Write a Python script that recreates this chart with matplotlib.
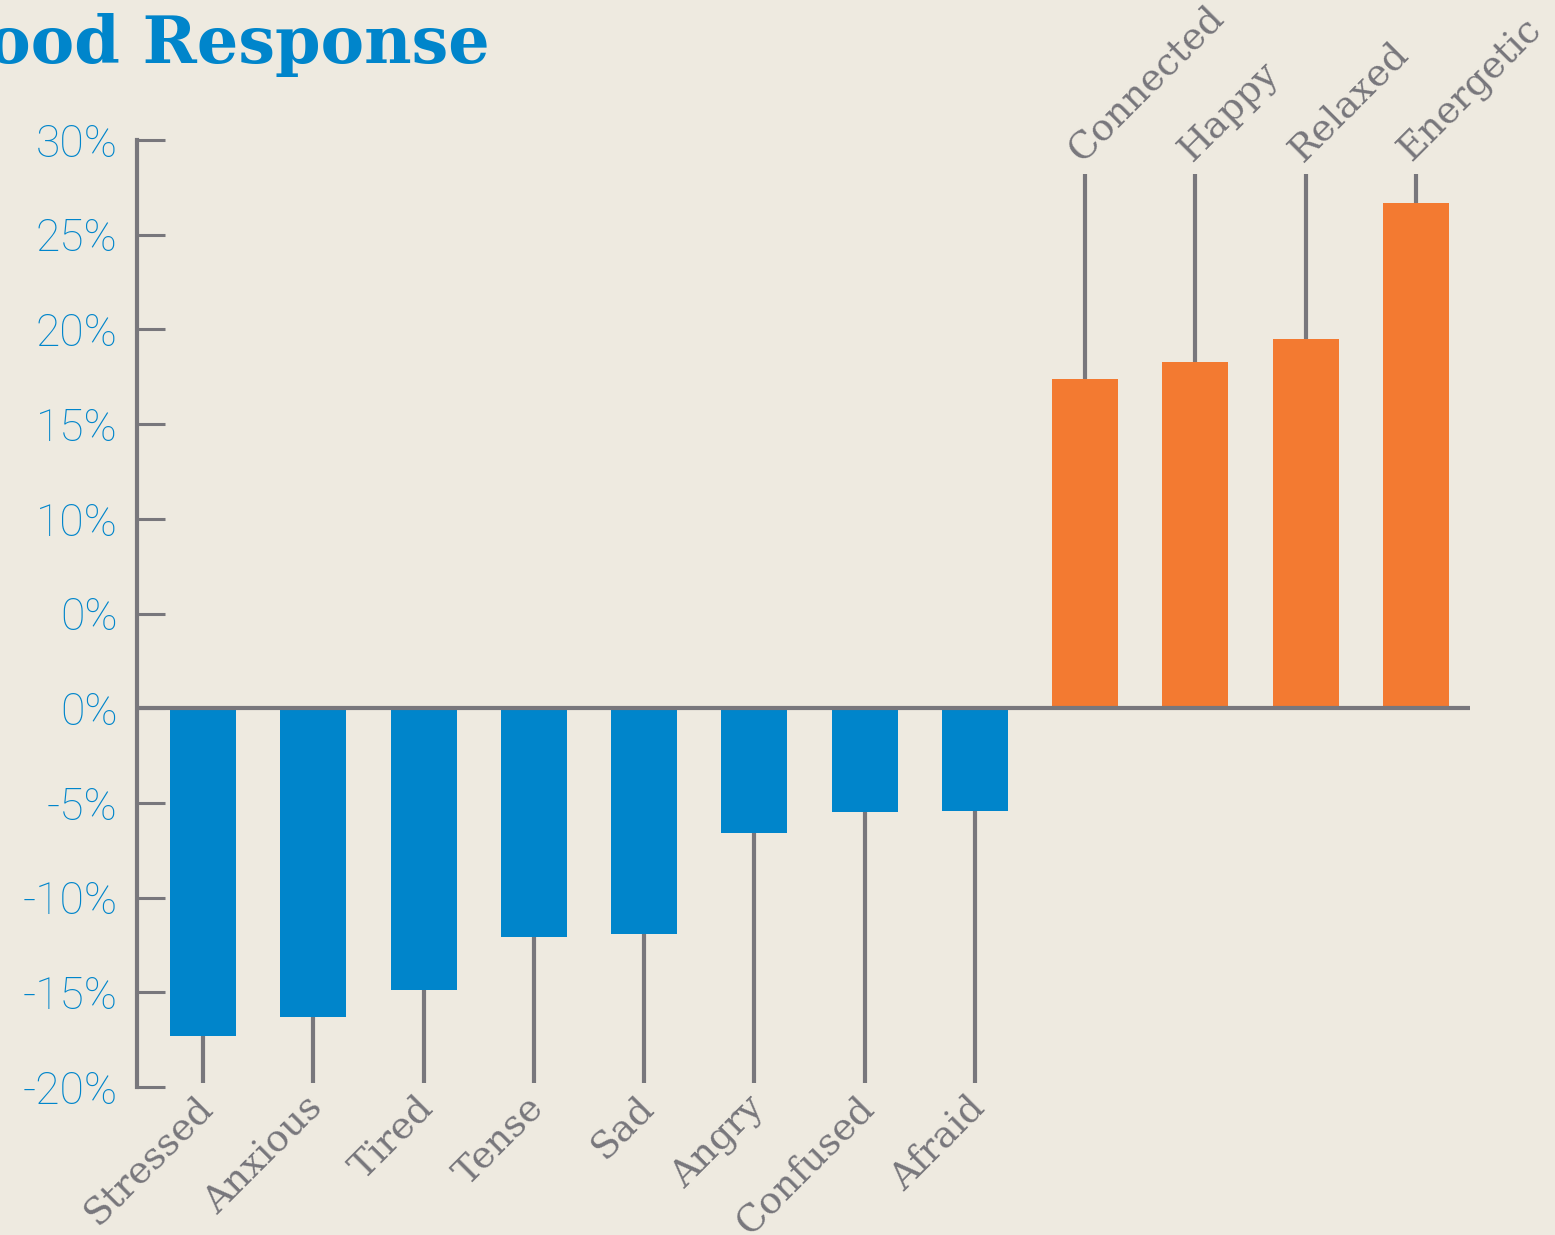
import numpy as np
import matplotlib.pyplot as plt

# ------ datos ------
moods = ['Stressed', 'Anxious', 'Tired', 'Tense', 'Sad', 'Angry', 'Confused', 'Afraid',
         'Connected', 'Happy', 'Relaxed', 'Energetic']
values = [-17.3, -16.3, -14.9, -12.1, -11.9, -6.6, -5.5, -5.4,
          17.4, 18.3, 19.5, 26.7]
ytick_vals = [30, 25, 20, 15, 10, 5, 0, -5, -10, -15, -20]
ytick_labels = ['30%', '25%', '20%', '15%', '10%', '0%', '0%', '-5%', '-10%', '-15%', '-20%']
title = 'Mood Response'

bg = '#EEEAE0'
blue = '#0085CB'
orange = '#F37A31'
gray = '#78777C'

fig = plt.figure(figsize=(15.55, 12.35), dpi=100, facecolor=bg)
ax = fig.add_axes([0.0881, 0.1198, 0.8572, 0.7668], facecolor=bg)

x = np.arange(len(moods))
colors = [blue if v < 0 else orange for v in values]
ax.bar(x, values, width=0.6, color=colors, zorder=2)
ax.axhline(0, color=gray, lw=3, zorder=3)

# lineas guia hacia las etiquetas
top_end, bottom_end = 28.2, -19.8
for xi, v, name in zip(x, values, moods):
    if v < 0:
        ax.plot([xi, xi], [v, bottom_end], color=gray, lw=3, solid_capstyle='butt', zorder=1)
        ax.text(xi - 0.08, bottom_end - 0.3, name, rotation=45, ha='right', va='top',
                rotation_mode='anchor', fontsize=27, color=gray, family='DejaVu Serif')
    else:
        ax.plot([xi, xi], [v, top_end], color=gray, lw=3, solid_capstyle='butt', zorder=1)
        ax.text(xi + 0.02, top_end + 0.3, name, rotation=45, ha='left', va='bottom',
                rotation_mode='anchor', fontsize=27, color=gray, family='DejaVu Serif',
                clip_on=False)

ax.set_xlim(-0.6, 11.49)
ax.set_ylim(-20, 30)
ax.set_yticks(ytick_vals)
ax.set_yticklabels(ytick_labels, fontsize=32, color=blue, family='Roboto', fontweight='light')
ax.tick_params(axis='y', direction='in', length=20, width=2.2, color=gray, pad=14)
ax.tick_params(axis='x', bottom=False, labelbottom=False)

for s in ['top', 'right', 'bottom']:
    ax.spines[s].set_visible(False)
ax.spines['left'].set_color(gray)
ax.spines['left'].set_linewidth(3)

fig.text(490 / 1555, 1 - 63 / 1235, title, ha='right', va='baseline', fontsize=47,
         color=blue, family='DejaVu Serif', fontweight='bold')

fig.savefig('out.png', dpi=100, facecolor=bg)
